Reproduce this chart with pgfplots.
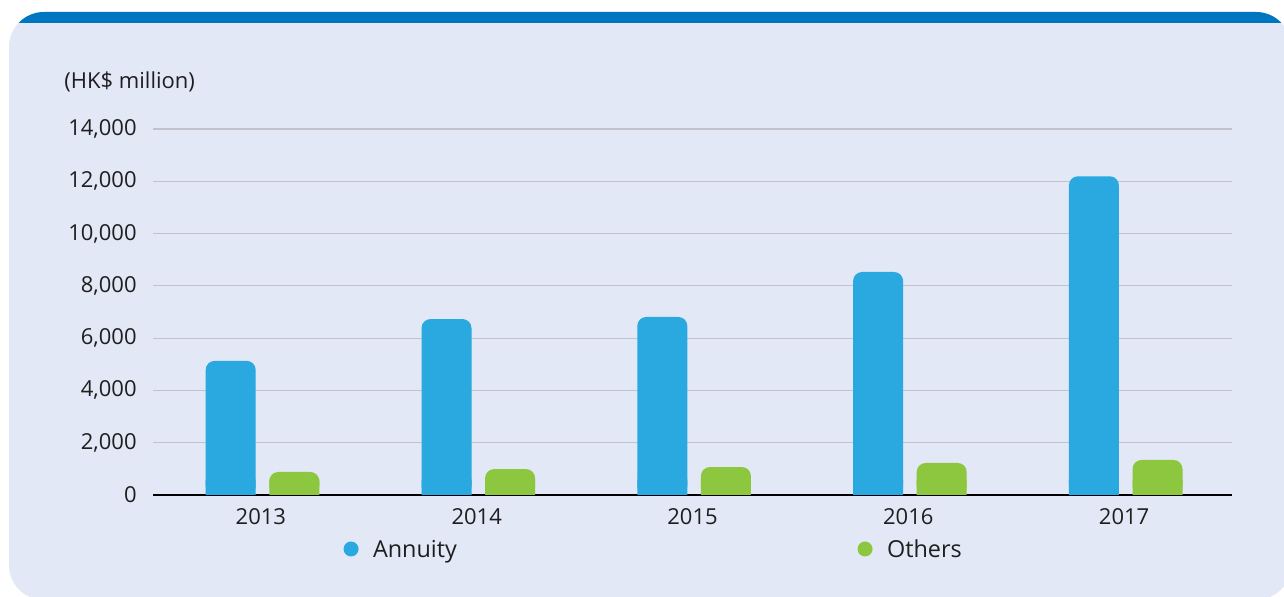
\documentclass[border=0pt]{standalone}
\usepackage{pgfplots}
\pgfplotsset{compat=1.18}
\usepackage{pgfplotstable}
\usepackage{fontspec}
\setmainfont{Open Sans}
\definecolor{panel}{HTML}{E3E8F6}
\definecolor{band}{HTML}{0076C0}
\definecolor{annuity}{HTML}{29A9E0}
\definecolor{others}{HTML}{8DC63F}
\definecolor{gridgray}{HTML}{C2C3CA}
\definecolor{textcol}{HTML}{1E1E1E}

\pgfplotstableread{
year annuity others
0 5130 880
1 6730 990
2 6810 1070
3 8530 1225
4 12190 1340
}\datatable

\begin{document}
\begin{tikzpicture}[font=\fontsize{11}{13.2}\selectfont, text=textcol]
\useasboundingbox (0,0) rectangle (642pt,298.5pt);
\begin{scope}
\clip (0,0) rectangle (642pt,298.5pt);
\path[fill=panel, rounded corners=17.5pt] (4.5pt,292.5pt) rectangle (645.5pt,-1.5pt);
\begin{scope}
\clip[rounded corners=17.5pt] (4.5pt,292.5pt) rectangle (645.5pt,-1.5pt);
\fill[band] (0pt,287pt) rectangle (650pt,300pt);
\end{scope}
\end{scope}
\node[anchor=base west, inner sep=0pt] at (32pt,254pt) {(HK\$ million)};
\begin{axis}[
  at={(76.5pt,51pt)}, anchor=south west,
  scale only axis, width=539.5pt, height=183pt,
  xmin=-0.5, xmax=4.5, ymin=0, ymax=14000,
  xtick={0,1,2,3,4}, xticklabels={2013,2014,2015,2016,2017},
  ytick={0,2000,4000,6000,8000,10000,12000,14000},
  scaled y ticks=false,
  /pgf/number format/assume math mode=true,
  ymajorgrids, grid style={color=gridgray, line width=0.6pt},
  major tick length=0pt,
  axis x line*=bottom, axis y line*=left,
  y axis line style={draw=none},
  x axis line style={black, line width=1pt, -},
  tick label style={text=textcol},
  yticklabel style={inner sep=0pt, xshift=-8pt},
  xticklabel style={inner sep=0pt, yshift=-6.5pt},
  legend cell align=left,
  legend style={draw=none, fill=none, inner sep=0pt, outer sep=0pt,
    at={(0.1766,-0.1475)}, anchor=west, legend columns=2,
    /tikz/column sep=0pt, font=\fontsize{11.7}{14}\selectfont,
    nodes={inner sep=0pt, text width=242.25pt, text height=8.5pt, text depth=0pt, text=textcol}},
]
\addplot[ybar, bar width=25pt, bar shift=-15.1pt, fill=annuity, draw=none, forget plot]
  table[x=year, y expr={min(\thisrow{annuity},600)}] {\datatable};
\addplot[ybar, bar width=25pt, bar shift=16.7pt, fill=others, draw=none, forget plot]
  table[x=year, y expr={min(\thisrow{others},600)}] {\datatable};
\addplot[ybar, bar width=25pt, bar shift=-15.1pt, fill=annuity, draw=none, rounded corners=4.5pt,
  legend image code/.code={\fill[annuity] (3.75pt,0pt) circle (3.75pt); \path (14.75pt,0pt);}]
  table[x=year, y=annuity] {\datatable};
\addlegendentry{Annuity}
\addplot[ybar, bar width=25pt, bar shift=16.7pt, fill=others, draw=none, rounded corners=4.5pt,
  legend image code/.code={\fill[others] (3.75pt,0pt) circle (3.75pt); \path (14.75pt,0pt);}]
  table[x=year, y=others] {\datatable};
\addlegendentry{Others}
\end{axis}
\end{tikzpicture}
\end{document}
